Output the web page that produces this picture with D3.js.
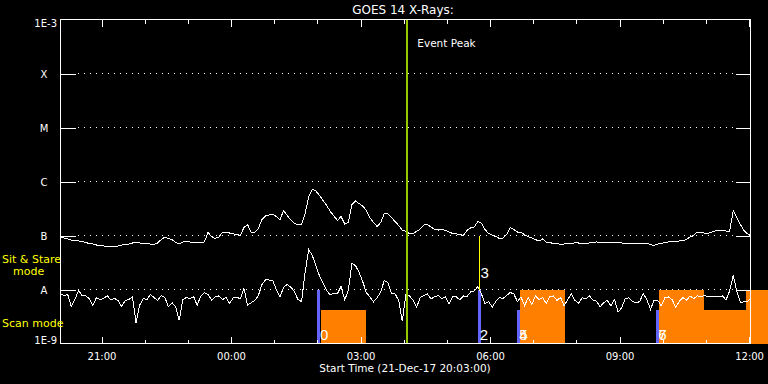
<!DOCTYPE html>
<html>
<head>
<meta charset="utf-8">
<script src="https://cdn.jsdelivr.net/npm/d3@7"></script>
<style>
  html, body { margin: 0; padding: 0; background: #000; }
  svg { display: block; }
  text { font-family: "DejaVu Sans", sans-serif; fill: #fff; }
  line, rect, path { shape-rendering: crispEdges; }
</style>
</head>
<body>
<div id="goes-xray"></div>
<script>

// GOES 14 x-ray flux, one sample every 5 min starting 21-Dec-17 20:03 UT
// values are in units of 1e-8 W/m^2
var sampleStart = "2017-12-21T20:03:00Z";
var sampleStepMin = 5;
var fluxUnit = 1e-8;

// 1-8 A channel (upper curve)
var longFlux = [9.18, 8.99, 8.61, 8.26, 8.08, 7.91, 7.74, 7.42, 7.10, 6.96,
  6.67, 6.52, 6.39, 6.12, 6.26, 6.39, 6.39, 6.67, 6.81, 6.96,
  7.26, 7.42, 7.26, 7.26, 7.10, 6.96, 6.81, 7.26, 8.43, 9.38,
  8.80, 8.43, 7.42, 6.96, 7.58, 7.58, 7.58, 7.42, 7.58, 7.42,
  7.58, 11.4, 9.58, 8.80, 9.38, 11.4, 11.6, 11.1, 10.7, 10.4,
  10.0, 14.1, 16.0, 11.4, 11.4, 13.5, 19.8, 23.0, 24.0, 25.0,
  22.5, 19.4, 29.0, 23.5, 19.4, 16.7, 16.0, 16.0, 25.5, 52.7,
  72.6, 66.7, 55.0, 44.5, 35.9, 27.8, 23.0, 19.0, 22.5, 16.3,
  17.4, 37.5, 43.5, 39.1, 35.2, 29.0, 21.5, 17.4, 14.7, 17.4,
  25.5, 25.0, 21.5, 18.2, 15.3, 12.6, 11.9, 10.9, 10.9, 11.9,
  13.2, 15.6, 16.0, 14.4, 12.9, 12.6, 13.2, 12.4, 11.6, 10.9,
  10.7, 10.4, 10.0, 12.4, 13.8, 14.4, 18.2, 17.0, 12.9, 10.9,
  10.2, 9.58, 8.80, 8.99, 10.4, 14.1, 12.9, 11.6, 11.6, 10.2,
  9.58, 8.99, 8.43, 7.91, 8.61, 7.58, 7.42, 7.10, 7.10, 6.81,
  6.96, 7.26, 6.96, 7.42, 7.26, 7.10, 7.10, 7.26, 7.42, 7.58,
  7.42, 7.26, 7.42, 7.58, 7.42, 7.58, 7.26, 7.10, 7.26, 7.10,
  7.10, 7.26, 7.26, 7.10, 6.81, 6.52, 6.96, 7.10, 7.42, 7.58,
  7.58, 7.74, 7.91, 8.08, 8.43, 9.38, 10.0, 11.6, 11.6, 11.1,
  10.9, 11.6, 12.1, 12.4, 12.4, 12.1, 11.9, 29.0, 21.5, 16.0,
  12.4, 10.7, 9.79];

// 0.5-4 A channel (lower curve)
var shortFlux = [0.84, 0.77, 0.81, 0.48, 0.65, 0.96, 0.77, 0.76, 0.68, 0.51,
  0.71, 0.65, 0.68, 0.77, 0.64, 0.68, 0.63, 0.48, 0.63, 0.65,
  0.74, 0.24, 0.51, 0.68, 0.65, 0.81, 0.71, 0.63, 0.77, 0.71,
  0.48, 0.57, 0.48, 0.27, 0.65, 0.71, 0.68, 0.74, 0.51, 0.76,
  0.88, 0.81, 0.64, 0.73, 0.76, 0.65, 0.71, 0.55, 0.70, 0.71,
  0.68, 1.04, 0.51, 0.57, 0.63, 0.77, 1.24, 1.50, 1.50, 1.47,
  1.00, 0.73, 1.09, 1.24, 1.11, 0.92, 0.65, 0.60, 2.07, 5.50,
  4.26, 2.78, 1.78, 1.29, 0.96, 0.79, 0.86, 0.84, 1.14, 0.64,
  0.96, 3.03, 2.78, 2.07, 1.41, 0.88, 0.73, 0.59, 0.70, 0.90,
  1.47, 1.35, 0.84, 0.83, 0.63, 0.26, 0.81, 0.76, 0.63, 0.47,
  0.71, 0.77, 0.83, 0.67, 0.74, 0.77, 0.68, 0.73, 0.55, 0.73,
  0.73, 0.64, 0.76, 0.74, 0.90, 0.94, 1.14, 0.83, 0.55, 0.60,
  0.47, 0.60, 0.71, 0.68, 0.77, 0.88, 0.83, 0.60, 0.73, 0.50,
  0.71, 0.52, 0.76, 0.65, 0.71, 0.55, 0.73, 0.76, 0.63, 0.71,
  0.50, 0.65, 0.83, 0.63, 0.56, 0.70, 0.67, 0.76, 0.64, 0.61,
  0.48, 0.57, 0.63, 0.50, 0.65, 0.38, 0.46, 0.68, 0.70, 0.60,
  0.56, 0.60, 0.84, 0.65, 0.43, 0.63, 0.63, 0.50, 0.70, 0.73,
  0.65, 0.47, 0.60, 0.71, 0.63, 0.76, 0.68, 0.76, 0.74, 0.77,
  0.74, 0.73, 0.74, 0.74, 0.76, 0.64, 0.94, 1.82, 0.92, 0.57,
  0.59, 0.60, 0.71];

var levelValues = [1e-9, 1e-8, 1e-7, 1e-6, 1e-5, 1e-4, 1e-3];
var levelLabels = ["1E-9", "A", "B", "C", "M", "X", "1E-3"];
var timeTicks = ["21:00", "00:00", "03:00", "06:00", "09:00", "12:00"];

var eventPeak = "04:05";

// observing blocks (orange) and pointing starts (blue)
var blockStart = ["02:05", "06:42", "09:55", "10:57", "11:56"];
var blockEnd = ["03:08", "07:44", "10:57", "11:56", "12:45"];
var blockMode = ["scan", "stare", "stare", "scan", "stare"];
var pointStart = ["02:02", "05:46", "06:40", "09:53"];
var pointMode = ["stare", "stare", "scan", "scan"];
var pointNumbers = ["0", "2", "4", "5", "6", "7"];
var pointNumberTimes = ["02:03", "05:45", "06:40", "06:40", "09:53", "09:53"];
var targetLine = { time: "05:46", from: 1e-8, to: 1e-7, label: "3" };

var modeTop = { stare: 1e-8, scan: 4.1e-9 };

function hm(s) {
  var p = s.split(":"), h = +p[0], m = +p[1];
  return new Date(Date.UTC(2017, 11, h >= 20 ? 21 : 22, h, m));
}

var t0 = new Date(sampleStart);
function series(vals) {
  return vals.map(function(v, i) {
    return { t: new Date(t0.getTime() + i * sampleStepMin * 60000), v: v * fluxUnit };
  });
}

var W = 768, H = 384;
var margin = {top: 19.5, right: 17.5, bottom: 40.5, left: 60.5},
    width = W - margin.left - margin.right,
    height = H - margin.top - margin.bottom;

var svg = d3.select("#goes-xray").append("svg")
    .attr("width", W)
    .attr("height", H)
    .style("background", "#000");

var g = svg.append("g")
    .attr("transform", "translate(" + margin.left + "," + margin.top + ")");

var x = d3.scaleUtc()
    .domain([t0, hm("12:02")])
    .range([0, width]);

var y = d3.scaleLog()
    .domain([1e-9, 1e-3])
    .range([height, 0]);

g.append("defs").append("clipPath").attr("id", "plot-clip")
  .append("rect").attr("width", width).attr("height", height);

// orange blocks, allowed to run past the frame like the original
g.selectAll(".block")
    .data(blockStart)
  .enter().append("rect")
    .attr("class", "block")
    .attr("x", function(d) { return x(hm(d)); })
    .attr("width", function(d, i) { return x(hm(blockEnd[i])) - x(hm(d)); })
    .attr("y", function(d, i) { return y(modeTop[blockMode[i]]); })
    .attr("height", function(d, i) { return height - y(modeTop[blockMode[i]]); })
    .attr("fill", "#ff8000");

g.selectAll(".point")
    .data(pointStart)
  .enter().append("rect")
    .attr("class", "point")
    .attr("x", function(d) { return x(hm(d)) - 1.5; })
    .attr("width", 3)
    .attr("y", function(d, i) { return y(modeTop[pointMode[i]]); })
    .attr("height", function(d, i) { return height - y(modeTop[pointMode[i]]); })
    .attr("fill", "#6464ff");

// dotted level lines
var grid = levelValues.slice(1, -1);
g.selectAll(".grid")
    .data(grid)
  .enter().append("line")
    .attr("x1", 17.5)
    .attr("x2", width - 15)
    .attr("y1", function(d) { return Math.round(y(d)); })
    .attr("y2", function(d) { return Math.round(y(d)); })
    .attr("stroke", "#fff")
    .attr("stroke-dasharray", "1,5");

// level ticks both sides
var yl = g.append("g").call(d3.axisLeft(y).tickValues(grid).tickSize(-15).tickFormat(""));
var yr = g.append("g").attr("transform", "translate(" + width + ",0)")
    .call(d3.axisRight(y).tickValues(grid).tickSize(-15).tickFormat(""));

// time ticks
var majors = timeTicks.map(hm);
var minors = d3.utcHour.range(hm("21:00"), hm("12:01"));
var xb = g.append("g").attr("transform", "translate(0," + height + ")")
    .call(d3.axisBottom(x).tickValues(minors).tickSize(-4).tickFormat(""));
var xb2 = g.append("g").attr("transform", "translate(0," + height + ")")
    .call(d3.axisBottom(x).tickValues(majors).tickSize(-7).tickPadding(9)
      .tickFormat(d3.utcFormat("%H:%M")));
var xt = g.append("g").call(d3.axisTop(x).tickValues(minors).tickSize(-4).tickFormat(""));
var xt2 = g.append("g").call(d3.axisTop(x).tickValues(majors).tickSize(-7).tickFormat(""));

[yl, yr, xb, xb2, xt, xt2].forEach(function(a) {
  a.select(".domain").remove();
  a.selectAll("line").attr("stroke", "#fff");
  a.selectAll("text").attr("fill", "#fff").style("font-size", "10px")
    .style("font-family", "DejaVu Sans, sans-serif");
});

// flux curves
var line = d3.line()
    .x(function(d) { return x(d.t); })
    .y(function(d) { return y(d.v); });

[longFlux, shortFlux].forEach(function(vals) {
  g.append("path")
      .datum(series(vals))
      .attr("clip-path", "url(#plot-clip)")
      .attr("fill", "none")
      .attr("stroke", "#fff")
      .attr("stroke-width", 1)
      .attr("d", line);
});

// pointing line and numbers
var tx = Math.round(x(hm(targetLine.time)));
g.append("line")
    .attr("x1", tx).attr("x2", tx)
    .attr("y1", y(targetLine.to)).attr("y2", y(targetLine.from))
    .attr("stroke", "#ffff00");
g.append("text")
    .attr("x", tx + 1)
    .attr("y", y(targetLine.from) - 12)
    .style("font-size", "15px")
    .style("font-family", "Liberation Sans, sans-serif")
    .text(targetLine.label);

g.selectAll(".num")
    .data(pointNumbers)
  .enter().append("text")
    .attr("x", function(d, i) { return x(hm(pointNumberTimes[i])) + 0.5; })
    .attr("y", height - 3.5)
    .style("font-size", "15px")
    .style("font-family", "Liberation Sans, sans-serif")
    .text(function(d) { return d; });

// event peak
var ex = x(hm(eventPeak));
g.append("line")
    .attr("x1", ex).attr("x2", ex)
    .attr("y1", 0).attr("y2", height)
    .attr("stroke", "#96c800")
    .attr("stroke-width", 2);
g.append("text")
    .attr("x", ex + 10)
    .attr("y", 27)
    .style("font-size", "10.5px")
    .text("Event Peak");

// frame
g.append("rect")
    .attr("width", width)
    .attr("height", height)
    .attr("fill", "none")
    .attr("stroke", "#fff");

// level labels
g.selectAll(".lvl")
    .data(levelValues)
  .enter().append("text")
    .attr("x", function(d, i) { return levelLabels[i].length > 1 ? -3.5 : -16.5; })
    .attr("y", function(d, i) {
      if (i == 0) return height;
      if (i == levelValues.length - 1) return y(d) + 7.5;
      return y(d) + 4;
    })
    .attr("text-anchor", function(d, i) { return levelLabels[i].length > 1 ? "end" : "middle"; })
    .style("font-size", "10px")
    .text(function(d, i) { return levelLabels[i]; });

// titles
svg.append("text")
    .attr("x", 403).attr("y", 13.5)
    .attr("text-anchor", "middle")
    .style("font-size", "12px")
    .text("GOES 14 X-Rays:");

svg.append("text")
    .attr("x", 405).attr("y", 372)
    .attr("text-anchor", "middle")
    .style("font-size", "10.5px")
    .text("Start Time (21-Dec-17 20:03:00)");

var modeText = [["Sit & Stare", 2, 263], ["mode", 13, 275], ["Scan mode", 2, 327]];
svg.selectAll(".mode")
    .data(modeText)
  .enter().append("text")
    .attr("x", function(d) { return d[1]; })
    .attr("y", function(d) { return d[2]; })
    .style("fill", "#ffff00")
    .style("font-size", "11px")
    .text(function(d) { return d[0]; });

</script>
</body>
</html>
